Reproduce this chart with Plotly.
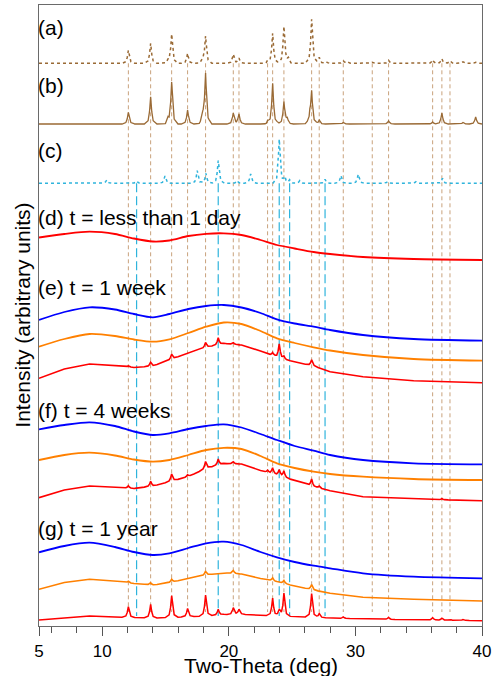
"""Stacked XRD patterns: references (a)-(c) and aged samples (d)-(g)."""

import numpy as np
import plotly.graph_objects as go

# Two-theta grid on which the broad (amorphous) backgrounds were read
BG_X = [5, 7, 9, 11, 12.5, 14, 15.3, 16.8, 18.2, 19.6, 21, 22.5, 23.8, 25.2, 26.7, 28, 30.6, 34.6, 40]

# Stacked intensities (arbitrary units, offsets included)
D_RED = [388.5, 392, 394.3, 392, 387.5, 384.5, 385.5, 390, 392.2, 392.7, 391, 386, 381, 377.5, 374, 372, 369, 367, 366]
E_BLUE = [306, 314, 318.7, 316.5, 312, 308.7, 312, 317, 320, 321, 318.5, 313, 306.7, 302.5, 299.3, 296, 291, 287, 285.3]
E_ORANGE = [279.3, 287, 292, 290, 286.5, 284.3, 286.7, 293, 299.3, 303.5, 302, 295, 287.7, 283, 278.7, 275.5, 271, 267, 265.3]
E_RED = [247.7, 257, 262, 260.5, 258.5, 260, 266, 273, 278.7, 282.5, 281, 275, 268.7, 264, 260, 254.3, 249.3, 245.3, 243.3]
F_BLUE = [196.7, 201, 203.7, 200, 194.5, 191, 192.7, 197, 200, 201.7, 198.5, 192, 186, 180, 175.3, 171, 166, 162.7, 161.7]
F_ORANGE = [166, 171, 173.3, 170.5, 166.5, 164.3, 166, 171, 176, 178.2, 177, 170, 162.7, 158, 154.3, 152, 149.3, 147, 146]
F_RED = [128.3, 136, 140, 138.5, 137.5, 140, 144.3, 149.5, 157.7, 162.5, 162, 155.5, 151, 145.5, 139.3, 135.3, 129.3, 127, 125.3]
G_BLUE = [73.7, 80, 83.3, 79, 74, 71, 72.7, 78, 82.7, 84.3, 81, 74, 68.7, 64, 60.3, 57.7, 52.7, 49.3, 47.7]
G_ORANGE = [36.7, 43.5, 46.7, 45, 42.5, 41, 43.3, 47.5, 51, 53.2, 52, 47.5, 44.3, 40, 36, 32.7, 28.7, 26.7, 25]
G_RED = [6, 8, 10, 9, 8.5, 8, 8.5, 9.3, 10, 11.5, 11.7, 10.7, 10, 9.5, 8.7, 8, 7, 6.2, 5.3]

# Flat baselines of the reference patterns
A_BASE = 562.7
B_BASE = 502
C_BASE = 442.7

# Peak positions (deg) and heights above the background
A_POS = [12.06, 13.82, 15.2, 15.48, 16.74, 17.95, 18.16, 20.35, 20.8, 23.06, 23.46, 24.35, 24.7, 26.54,
         27.14, 27.7, 29.04, 29.35, 31.33, 32.62, 36.1, 36.83, 37.47, 38.5, 39.5]
A_H = [13, 20, 2, 29, 10, 3, 27, 9, 5, 2, 30, 36.7, 4, 44, 6, 1.5, 2.5, 1.5, 1, 3, 3.5, 4.5, 2.5, 1.5, 1]
B_POS = [12.06, 13.82, 15.2, 15.48, 16.74, 17.95, 18.16, 20.35, 20.8, 23.06, 23.46, 24.35, 24.6, 26.4,
         26.54, 27.14, 29.04, 32.62, 36.1, 36.83, 38.5, 39.5]
B_H = [11.7, 27.3, 4, 41.7, 14, 8, 50, 10.7, 10, 2, 40.7, 22, 5, 6, 32, 4, 1.5, 3, 2, 11, 1.5, 7]
C_POS = [10.35, 12.71, 14.95, 17.5, 18.19, 19.16, 20.66, 21.72, 23.98, 24.43, 24.8, 25.6, 27.6, 28.85,
         30.22, 32.54, 34.78, 36.88]
C_H = [3.3, 2.3, 7.3, 12.7, 10, 22.7, 2.7, 9.3, 44, 6, 3.3, 2.7, 4, 7.7, 9, 1.7, 1.7, 5]
E_RED_POS = [12.06, 13.82, 15.48, 18.16, 19.16, 20.35, 23.46, 23.98, 24.35, 26.54]
E_RED_H = [1, 4, 5, 5, 7, 1.5, 3.3, 14, 2.5, 5.7]
F_RED_POS = [12.06, 13.82, 15.48, 16.74, 18.16, 19.16, 20.35, 23.06, 23.46, 23.98, 24.35, 26.54, 27.14, 36.83]
F_RED_H = [2.5, 5, 7, 2, 7, 6, 2, 2, 6, 6, 6, 7, 2, 1]
G_ORANGE_POS = [12.06, 13.82, 15.48, 18.16, 20.35, 23.46, 24.35, 26.54]
G_ORANGE_H = [1.5, 2, 3, 4, 3, 3, 3, 5]
G_RED_POS = [12.06, 13.82, 15.48, 16.74, 18.16, 19.16, 20.35, 20.8, 23.46, 23.98, 24.35, 26.54, 27.14,
             29.04, 32.62, 36.1, 36.83, 37.47, 38.5]
G_RED_H = [10.7, 13.7, 21.7, 8.3, 21, 5.7, 6.7, 5, 17.7, 6, 22.7, 23.7, 4, 1.5, 2, 2.5, 2, 1, 1]

# Reference lines
BROWN_REF = [12.06, 13.82, 15.48, 16.74, 18.16, 20.35, 20.8, 23.06, 23.46, 24.35, 26.54, 27.14,
             29.04, 31.33, 32.62, 36.1, 36.83, 37.47]
BLUE_REF = [12.71, 19.16, 23.98, 24.8, 27.6]

# Peak profile template (offset in deg, fraction of height)
PEAK_DX = [-0.5, -0.2, -0.09, 0, 0.09, 0.2, 0.5]
PEAK_F = [0, 0.12, 0.45, 1, 0.45, 0.12, 0]

BROWN = "#9a6a35"
LIGHT_BROWN = "#c9a27c"
CYAN = "#2fb4dc"
FONT = "Arial, Liberation Sans, sans-serif"


def pattern(bg, pos=(), heights=()):
    """Piecewise-linear pattern: background plus templated peaks."""
    bg = np.full(len(BG_X), bg) if np.isscalar(bg) else np.asarray(bg, float)
    xs = list(BG_X)
    for p in pos:
        xs += [p + d for d in PEAK_DX]
    x = np.unique(np.round(xs, 4))
    y = np.interp(x, BG_X, bg)
    for p, h in zip(pos, heights):
        y += np.interp(x, [p + d for d in PEAK_DX], [h * f for f in PEAK_F], left=0, right=0)
    return x, y


def vlines(xs, y0, y1):
    lx, ly = [], []
    for v in xs:
        lx += [v, v, None]
        ly += [y0, y1, None]
    return lx, ly


fig = go.Figure()

bx, by = vlines(BROWN_REF, A_BASE, 14)
fig.add_trace(go.Scatter(x=bx, y=by, mode="lines", line=dict(color=LIGHT_BROWN, width=1, dash="4px,3px")))
cx, cy = vlines(BLUE_REF, C_BASE, 10)
fig.add_trace(go.Scatter(x=cx, y=cy, mode="lines", line=dict(color=CYAN, width=1.2, dash="9px,4px")))

series = [
    (A_BASE, A_POS, A_H, BROWN, 1.5, "dot"),
    (B_BASE, B_POS, B_H, BROWN, 1.3, "solid"),
    (C_BASE, C_POS, C_H, CYAN, 1.5, "dot"),
    (D_RED, [], [], "#ff0000", 1.8, "solid"),
    (E_BLUE, [], [], "#0000ff", 1.8, "solid"),
    (E_ORANGE, [], [], "#ff8000", 1.8, "solid"),
    (E_RED, E_RED_POS, E_RED_H, "#ff0000", 1.6, "solid"),
    (F_BLUE, [], [], "#0000ff", 1.8, "solid"),
    (F_ORANGE, [], [], "#ff8000", 1.8, "solid"),
    (F_RED, F_RED_POS, F_RED_H, "#ff0000", 1.6, "solid"),
    (G_BLUE, [], [], "#0000ff", 1.8, "solid"),
    (G_ORANGE, G_ORANGE_POS, G_ORANGE_H, "#ff8000", 1.6, "solid"),
    (G_RED, G_RED_POS, G_RED_H, "#ff0000", 1.5, "solid"),
]
for bg, pos, h, color, width, dash in series:
    x, y = pattern(bg, pos, h)
    # smooth the pure amorphous humps, keep the peaked patterns piecewise linear
    shape = "spline" if not pos and not np.isscalar(bg) else "linear"
    fig.add_trace(go.Scatter(x=x, y=y, mode="lines",
                             line=dict(color=color, width=width, dash=dash, shape=shape, smoothing=0.8)))

labels = [
    ("(a)", 599), ("(b)", 541), ("(c)", 476), ("(d) t = less than 1 day", 409),
    ("(e) t = 1 week", 339), ("(f) t = 4 weeks", 216), ("(g) t = 1 year", 98),
]
for text, yl in labels:
    fig.add_annotation(x=5, y=yl, text=text, showarrow=False, xanchor="left", yanchor="middle",
                       xshift=-3, font=dict(size=21, color="black", family=FONT))

fig.add_annotation(x=0.5, y=-0.064, xref="paper", yref="paper", text="Two-Theta (deg)", showarrow=False,
                   yanchor="middle", font=dict(size=21, color="black", family=FONT))
fig.add_annotation(x=-0.038, y=0.5, xref="paper", yref="paper", text="Intensity (arbitrary units)",
                   showarrow=False, textangle=-90, xanchor="center",
                   font=dict(size=21, color="black", family=FONT))

fig.update_layout(
    width=495, height=676, showlegend=False,
    margin=dict(l=39, r=13, t=5, b=50, autoexpand=False),
    plot_bgcolor="white", paper_bgcolor="white",
    font=dict(family=FONT, color="black"),
)
fig.update_xaxes(
    range=[5, 40], tickvals=[5, 10, 20, 30, 40], ticks="outside", ticklen=9, tickcolor="#555",
    tickfont=dict(size=17), showgrid=False, zeroline=False, automargin=False,
    showline=True, linecolor="#6a6a6a", linewidth=1.2, mirror=True,
    minor=dict(tickvals=list(range(6, 40, 2)), ticks="outside", ticklen=6, tickcolor="#555"),
)
fig.update_yaxes(
    range=[0, 621], showticklabels=False, ticks="", showgrid=False, zeroline=False, automargin=False,
    showline=True, linecolor="#6a6a6a", linewidth=1.2, mirror=True,
)

# drop the default page margin so the figure sits at the window's corner
fig.write_html("out.html", config={"displayModeBar": False},
               post_script="document.body.style.margin = '0';")
